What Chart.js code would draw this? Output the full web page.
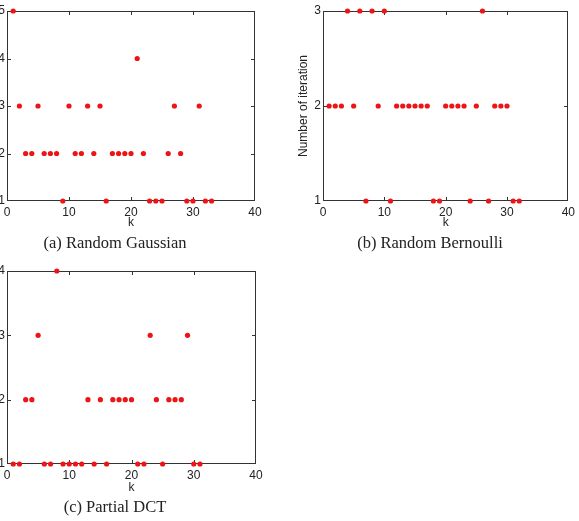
<!DOCTYPE html>
<html>
<head>
<meta charset="utf-8">
<script src="https://cdn.jsdelivr.net/npm/chart.js@4.4.0/dist/chart.umd.min.js"></script>
<style>
  html, body { margin: 0; padding: 0; background: #fff; }
  body { width: 579px; height: 521px; position: relative; overflow: hidden; }
  canvas { position: absolute; }
  .cap {
    position: absolute;
    font-family: "Liberation Serif", serif;
    font-size: 16.5px;
    color: #222;
    white-space: nowrap;
    transform: translate(-50%, -50%);
  }
</style>
</head>
<body>
<canvas id="frameA" width="300" height="230" style="left:-20px;top:0px"></canvas>
<canvas id="chartA" width="300" height="230" style="left:-20px;top:0px"></canvas>
<canvas id="frameB" width="299" height="230" style="left:280px;top:0px"></canvas>
<canvas id="chartB" width="299" height="230" style="left:280px;top:0px"></canvas>
<canvas id="frameC" width="300" height="235" style="left:-20px;top:260px"></canvas>
<canvas id="chartC" width="300" height="235" style="left:-20px;top:260px"></canvas>
<div class="cap" style="left:115px;top:243px">(a) Random Gaussian</div>
<div class="cap" style="left:430px;top:243px">(b) Random Bernoulli</div>
<div class="cap" style="left:115px;top:507px">(c) Partial DCT</div>
<script>
// k values and number of iterations
var kGaussian = [1, 2, 3, 4, 5, 6, 7, 8, 9, 10, 11, 12, 13, 14, 15, 16, 17, 18, 19, 20,
  21, 22, 23, 24, 25, 26, 27, 28, 29, 30, 31, 32, 33];
var itersGaussian = [5, 3, 2, 2, 3, 2, 2, 2, 1, 3, 2, 2, 3, 2, 3, 1, 2, 2, 2, 2,
  4, 2, 1, 1, 1, 2, 3, 2, 1, 1, 3, 1, 1];

var kBernoulli = [1, 2, 3, 4, 5, 6, 7, 8, 9, 10, 11, 12, 13, 14, 15, 16, 17, 18, 19, 20,
  21, 22, 23, 24, 25, 26, 27, 28, 29, 30, 31, 32];
var itersBernoulli = [2, 2, 2, 3, 2, 3, 1, 3, 2, 3, 1, 2, 2, 2, 2, 2, 2, 1, 1, 2,
  2, 2, 2, 1, 2, 3, 1, 2, 2, 2, 1, 1];

var kDct = [1, 2, 3, 4, 5, 6, 7, 8, 9, 10, 11, 12, 13, 14, 15, 16, 17, 18, 19, 20,
  21, 22, 23, 24, 25, 26, 27, 28, 29, 30, 31];
var itersDct = [1, 1, 2, 2, 3, 1, 1, 4, 1, 1, 1, 1, 2, 1, 2, 1, 2, 2, 2, 2,
  1, 1, 3, 2, 1, 2, 2, 2, 3, 1, 1];

var xTicks = [0, 10, 20, 30, 40];

var textColor = '#222';
var dotColor = 'rgb(236, 20, 22)';
var tickFont = { family: 'Liberation Sans', size: 12 };

// box and inward ticks go on a plain canvas under the chart,
// placed with the chart's own scales
function drawFrame(frameId, chart) {
  var ctx = document.getElementById(frameId).getContext('2d');
  var a = chart.chartArea;
  var xs = chart.scales.x, ys = chart.scales.y;
  var l = Math.round(a.left), r = Math.round(a.right) - 1;
  var t = Math.round(a.top), b = Math.round(a.bottom) - 1;
  var len = 3;
  ctx.fillStyle = '#333';
  ctx.fillRect(l, t, r - l + 1, 1);
  ctx.fillRect(l, b, r - l + 1, 1);
  ctx.fillRect(l, t, 1, b - t + 1);
  ctx.fillRect(r, t, 1, b - t + 1);
  xTicks.forEach(function (v) {
    var px = Math.min(Math.round(xs.getPixelForValue(v)), r);
    ctx.fillRect(px, b - len, 1, len);
    ctx.fillRect(px, t + 1, 1, len);
  });
  ys.ticks.forEach(function (tk) {
    var py = Math.min(Math.round(ys.getPixelForValue(tk.value)), b);
    ctx.fillRect(l + 1, py, len, 1);
    ctx.fillRect(r - len, py, len, 1);
  });
}

// empty axes used only to reserve the space round the plot area
function spacer(pos, size) {
  return {
    position: pos,
    grid: { display: false, drawTicks: false },
    border: { display: false },
    ticks: { display: false },
    afterFit: function (s) {
      if (pos === 'top') s.height = size; else s.width = size;
    }
  };
}

function makeChart(id, ks, iters, yMax, opts) {
  var points = ks.map(function (k, i) { return { x: k, y: iters[i] }; });
  return new Chart(document.getElementById(id), {
    type: 'scatter',
    data: {
      datasets: [{
        data: points,
        xAxisID: 'x',
        yAxisID: 'y',
        backgroundColor: dotColor,
        borderWidth: 0,
        pointRadius: 2.6,
        pointHoverRadius: 2.6,
        clip: false
      }]
    },
    options: {
      responsive: false,
      animation: false,
      events: [],
      layout: { padding: { left: opts.left, top: 0, right: 0, bottom: 0 } },
      plugins: { legend: { display: false }, tooltip: { enabled: false } },
      scales: {
        x: {
          type: 'linear',
          min: 0,
          max: 40,
          afterBuildTicks: function (s) {
            s.ticks = xTicks.map(function (v) { return { value: v }; });
          },
          grid: { display: false, drawTicks: false },
          border: { display: false },
          ticks: { padding: 4, color: textColor, font: tickFont },
          title: { display: true, text: 'k', color: textColor, padding: 0, font: tickFont },
          afterFit: function (s) { s.height = opts.xHeight; }
        },
        x2: spacer('top', 11),
        y: {
          min: 1,
          max: yMax,
          grid: { display: false, drawTicks: false },
          border: { display: false },
          ticks: { stepSize: 1, padding: 2, color: textColor, font: tickFont },
          title: {
            display: !!opts.yTitle,
            text: opts.yTitle || '',
            color: textColor,
            padding: 0,
            font: tickFont
          },
          afterFit: function (s) { s.width = opts.yWidth; }
        },
        y2: spacer('right', opts.right)
      }
    }
  });
}

var chartA = makeChart('chartA', kGaussian, itersGaussian, 5,
  { left: 0, right: 25, yWidth: 27, xHeight: 29 });
var chartB = makeChart('chartB', kBernoulli, itersBernoulli, 3,
  { left: 16, right: 8, yWidth: 27, xHeight: 29, yTitle: 'Number of iteration' });
var chartC = makeChart('chartC', kDct, itersDct, 4,
  { left: 0, right: 24, yWidth: 27, xHeight: 31 });

drawFrame('frameA', chartA);
drawFrame('frameB', chartB);
drawFrame('frameC', chartC);
</script>
</body>
</html>
